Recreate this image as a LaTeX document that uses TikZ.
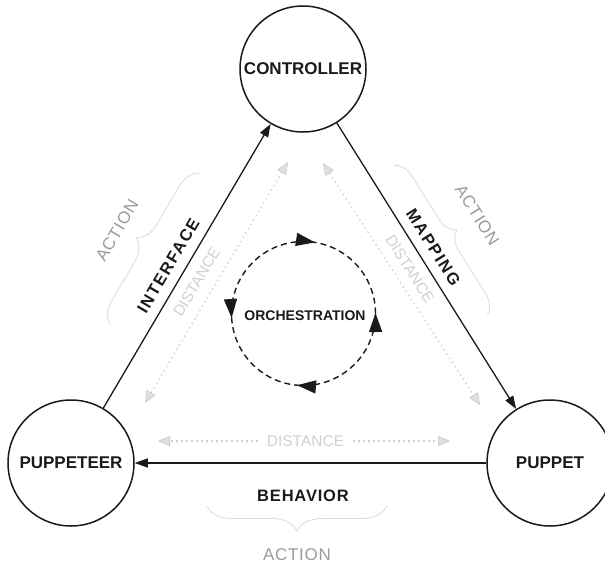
\documentclass[tikz,border=0pt]{standalone}
\usepackage{fontspec}
\setmainfont{Liberation Sans}
\usetikzlibrary{arrows.meta,decorations.pathreplacing,decorations.markings}

\definecolor{ink}{HTML}{1A1A1A}
\definecolor{actgray}{HTML}{9A9A9A}
\definecolor{distgray}{HTML}{D0D0D0}
\definecolor{bracegray}{HTML}{DDDDDD}

\tikzset{
  orchtip/.tip={Triangle[length=19pt,width=13pt]},
  disttip/.tip={Triangle[length=12pt,width=10pt,color=black!22,fill=black!12,line width=0.6pt]},
}

\begin{document}
\begin{tikzpicture}[x=1pt,y=1pt,
  role/.style={circle, draw=ink, line width=1.5pt, minimum size=126pt, inner sep=0pt,
    font=\fontsize{17}{18}\selectfont\bfseries, text=ink},
  flow/.style={draw=ink, line width=1.3pt, -{Triangle[length=13pt,width=9pt]}},
  edgelabel/.style={font=\fontsize{16.5}{18}\selectfont\bfseries\addfontfeatures{LetterSpace=10},
    text=ink, inner sep=0pt},
  actionlabel/.style={font=\fontsize{17}{18}\selectfont\addfontfeatures{LetterSpace=4},
    text=actgray, inner sep=0pt},
  distlabel/.style={font=\fontsize{15.5}{17}\selectfont, text=distgray, inner sep=0pt},
  distline/.style={draw=distgray, line width=1.2pt, dash pattern=on 1.6pt off 3.4pt},
  actbrace/.style={draw=bracegray, line width=0.9pt, decorate, decoration={brace, amplitude=#1}},
  orchring/.style={draw=ink, line width=1.4pt, dash pattern=on 6pt off 4pt,
    postaction={decorate}, decoration={markings,
      mark=at position 0.5pt with {\arrow{orchtip}},
      mark=at position 0.2245 with {\arrowreversed{orchtip}},
      mark=at position 0.51 with {\arrow{orchtip}},
      mark=at position 0.7356 with {\arrowreversed{orchtip}}}},
]
\useasboundingbox (0,0) rectangle (605,-565);

% the three roles
\node[role] (ctrl)  at (303,-69)  {CONTROLLER};
\node[role] (pteer) at (71,-463)  {PUPPETEER};
\node[role] (puppet) at (550,-463) {PUPPET};

% main flows
\draw[flow] (pteer) -- (ctrl);
\draw[flow] (ctrl) -- (puppet);
\draw[flow] (puppet) -- (pteer);

% flow labels
\node[edgelabel, rotate=59.5]  (interface) at (168.3,-265.7) {INTERFACE};
\node[edgelabel, rotate=-57.9] (mapping)   at (433.3,-247.3) {MAPPING};
\node[font=\fontsize{16.5}{18}\selectfont\bfseries\addfontfeatures{LetterSpace=5},
      text=ink, inner sep=0pt] (behavior) at (303,-495.5) {BEHAVIOR};

% distance arrows
\coordinate (dl1) at (145,-403);
\coordinate (dl2) at (288,-162);
\coordinate (dr1) at (323,-163);
\coordinate (dr2) at (480,-405);
\coordinate (db1) at (158,-441);
\coordinate (db2) at (450,-441);
\draw[distline, {disttip}-{disttip}] (dl1) -- (dl2);
\draw[distline, {disttip}-{disttip}] (dr1) -- (dr2);
\node[distlabel, inner xsep=9pt] (distb) at (305.5,-441) {DISTANCE};
\draw[distline, -{disttip}] (distb) -- (db1);
\draw[distline, -{disttip}] (distb) -- (db2);
\node[distlabel, rotate=59.5]  (distl) at (196.7,-281.7) {DISTANCE};
\node[distlabel, rotate=-57.9] (distr) at (410,-269) {DISTANCE};

% action braces
\coordinate (bl1) at (110.3,-324.8);
\coordinate (bl2) at (199.7,-173.2);
\coordinate (br1) at (394.1,-165.4);
\coordinate (br2) at (487.5,-314.6);
\coordinate (bb1) at (387,-506);
\coordinate (bb2) at (207,-506);
\draw[actbrace=22pt] (bl1) -- (bl2);
\draw[actbrace=19pt] (br1) -- (br2);
\draw[actbrace=25pt] (bb1) -- (bb2);
\node[actionlabel, rotate=59.5]  (actl) at (117,-230.5) {ACTION};
\node[actionlabel, rotate=-57.9] (actr) at (477.3,-215.3) {ACTION};
\node[actionlabel] (actb) at (297,-555) {ACTION};

% orchestration cycle
\node[font=\fontsize{14}{16}\selectfont\bfseries, text=ink, inner sep=0pt] (orch) at (305,-316) {ORCHESTRATION};
\coordinate (orchc) at (303.5,-313.5);
\draw[orchring] (orchc) circle[radius=72pt];
\end{tikzpicture}
\end{document}
